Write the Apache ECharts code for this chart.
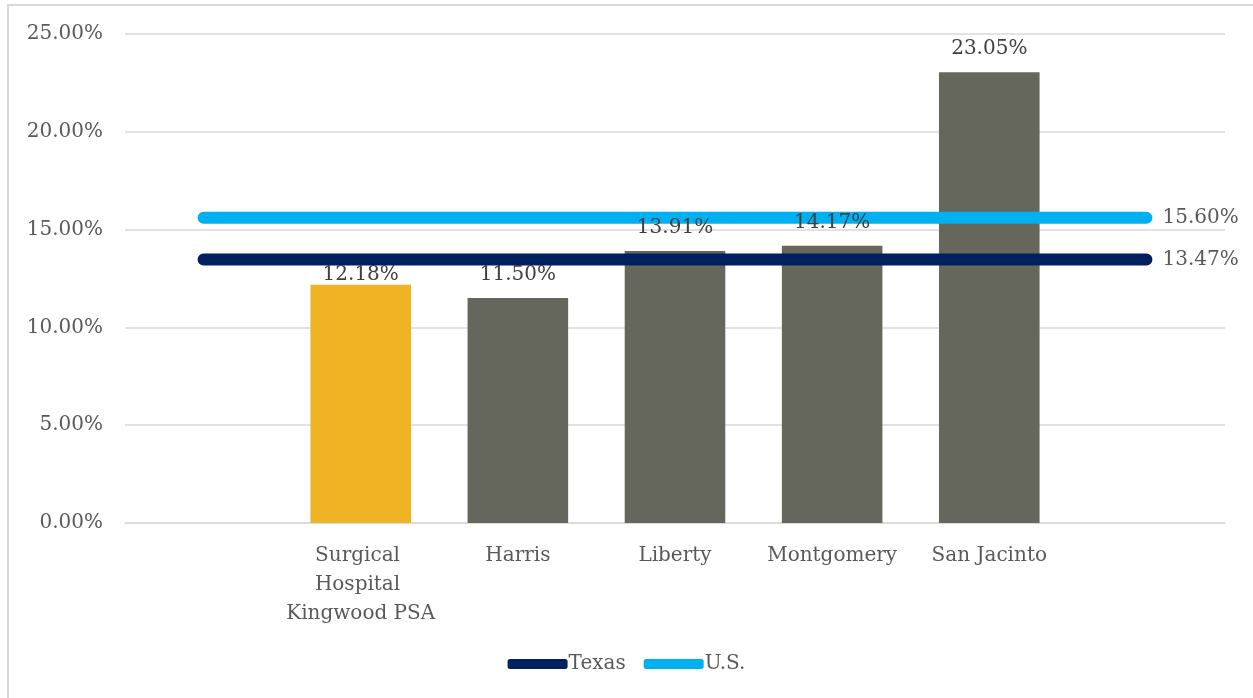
<!DOCTYPE html>
<html>
<head>
<meta charset="utf-8">
<script src="https://cdn.jsdelivr.net/npm/echarts@6/dist/echarts.min.js"></script>
<style>
  html, body { margin: 0; padding: 0; background: #fff; }
  #frame {
    position: absolute; left: 7px; top: 4px; width: 1246px; height: 694px;
    border-left: 2px solid #d9d9d9; border-top: 2px solid #d9d9d9;
  }
  #chart { position: absolute; left: 0; top: 0; width: 1253px; height: 698px; }
</style>
</head>
<body>
<div id="frame"></div>
<div id="chart"></div>
<script>
// categories (empty slots at both ends, as in the reference)
const categories = ['', 'Surgical Hospital Kingwood PSA', 'Harris', 'Liberty', 'Montgomery', 'San Jacinto', ''];
const barValues = [null, 12.18, 11.50, 13.91, 14.17, 23.05, null];
const texasValue = 13.47;
const usValue = 15.60;
const texasLine = categories.map(() => texasValue);
const usLine = categories.map(() => usValue);

const font = 'DejaVu Serif';
const textColor = '#595959';

const chart = echarts.init(document.getElementById('chart'));

const pct = p => p.value.toFixed(2) + '%';

const option = {
  animation: false,
  textStyle: { fontFamily: font },
  grid: { left: 125, right: 28, top: 34, bottom: 175 },
  legend: {
    bottom: 19,
    left: 'center',
    icon: 'roundRect',
    itemWidth: 60,
    itemHeight: 10,
    itemGap: 18,
    textStyle: { fontFamily: font, fontSize: 20, color: textColor, padding: [0, 0, 0, -4] },
    data: ['Texas', 'U.S.']
  },
  xAxis: {
    type: 'category',
    data: categories,
    axisLine: { lineStyle: { color: '#d9d9d9', width: 1.5 } },
    axisTick: { show: false },
    axisLabel: {
      interval: 0,
      margin: 18,
      fontFamily: font,
      fontSize: 20,
      color: textColor,
      width: 150,
      overflow: 'break',
      lineHeight: 29
    }
  },
  yAxis: {
    type: 'value',
    min: 0,
    max: 25,
    interval: 5,
    axisLine: { show: false },
    axisTick: { show: false },
    splitLine: { lineStyle: { color: '#d9d9d9', width: 1.5 } },
    axisLabel: {
      margin: 22,
      fontFamily: font,
      fontSize: 20,
      color: textColor,
      formatter: v => v.toFixed(2) + '%'
    }
  },
  series: [
    {
      name: 'Values',
      type: 'bar',
      barWidth: '64%',
      z: 2,
      data: barValues.map((v, i) => v === null ? '-' : {
        value: v,
        itemStyle: { color: i === 1 ? '#F0B323' : '#66675C' }
      })
    },
    {
      name: 'Texas',
      type: 'line',
      data: texasLine,
      symbol: 'none',
      z: 3,
      lineStyle: { color: '#002060', width: 12, cap: 'round' },
      itemStyle: { color: '#002060' },
      endLabel: {
        show: true,
        distance: 16,
        fontFamily: font,
        fontSize: 20,
        color: textColor,
        formatter: pct
      }
    },
    {
      name: 'U.S.',
      type: 'line',
      data: usLine,
      symbol: 'none',
      z: 3,
      lineStyle: { color: '#00B0F0', width: 12, cap: 'round' },
      itemStyle: { color: '#00B0F0' },
      endLabel: {
        show: true,
        distance: 16,
        fontFamily: font,
        fontSize: 20,
        color: textColor,
        formatter: pct
      }
    },
    {
      // transparent overlay carrying the bar value labels above the lines
      name: 'Labels',
      type: 'bar',
      barWidth: '64%',
      barGap: '-100%',
      z: 4,
      silent: true,
      itemStyle: { color: 'rgba(0,0,0,0)' },
      data: barValues.map((v, i) => v === null ? '-' : {
        value: v,
        label: i === 1 ? { distance: 0 } : undefined
      }),
      label: {
        show: true,
        position: 'top',
        distance: 13,
        fontFamily: font,
        fontSize: 20,
        color: '#404040',
        formatter: pct
      }
    }
  ]
};

chart.setOption(option);
</script>
</body>
</html>
